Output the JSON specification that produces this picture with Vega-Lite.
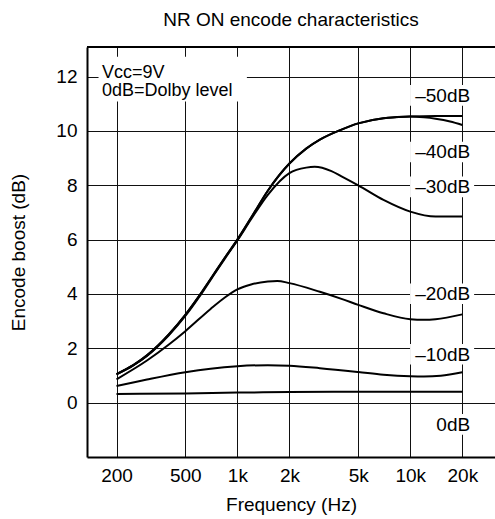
{
  "$schema": "https://vega.github.io/schema/vega-lite/v6.json",
  "autosize": "none",
  "width": 408,
  "height": 410,
  "padding": {"left": 87, "top": 47, "right": 0, "bottom": 62},
  "background": "white",
  "title": {"text": "NR ON encode characteristics", "fontSize": 19, "font": "Liberation Sans", "fontWeight": "normal", "color": "black", "anchor": "middle", "baseline": "alphabetic", "offset": 1},
  "config": {
    "view": {"stroke": null},
    "axis": {"labelFont": "Liberation Sans", "titleFont": "Liberation Sans", "labelFontSize": 19, "titleFontSize": 19, "titleFontWeight": "normal", "labelColor": "black", "titleColor": "black", "grid": true, "gridColor": "#111", "gridWidth": 1, "gridOpacity": 1, "domainColor": "black", "domainWidth": 2, "ticks": false, "tickSize": 0, "labelOverlap": false}
  },
  "datasets": {
    "curves": [
      {"f": 200, "v": 1.05, "s": "-50dB"}, {"f": 250, "v": 1.38, "s": "-50dB"}, {"f": 300, "v": 1.74, "s": "-50dB"}, {"f": 400, "v": 2.5, "s": "-50dB"}, {"f": 500, "v": 3.23, "s": "-50dB"}, {"f": 600, "v": 3.92, "s": "-50dB"}, {"f": 700, "v": 4.55, "s": "-50dB"}, {"f": 850, "v": 5.35, "s": "-50dB"}, {"f": 1000, "v": 6.0, "s": "-50dB"}, {"f": 1200, "v": 6.8, "s": "-50dB"}, {"f": 1500, "v": 7.8, "s": "-50dB"}, {"f": 2000, "v": 8.8, "s": "-50dB"}, {"f": 2500, "v": 9.35, "s": "-50dB"}, {"f": 3000, "v": 9.68, "s": "-50dB"}, {"f": 4000, "v": 10.05, "s": "-50dB"}, {"f": 5000, "v": 10.28, "s": "-50dB"}, {"f": 7000, "v": 10.47, "s": "-50dB"}, {"f": 10000, "v": 10.53, "s": "-50dB"}, {"f": 14000, "v": 10.55, "s": "-50dB"}, {"f": 20000, "v": 10.55, "s": "-50dB"},
      {"f": 200, "v": 1.05, "s": "-40dB"}, {"f": 250, "v": 1.38, "s": "-40dB"}, {"f": 300, "v": 1.74, "s": "-40dB"}, {"f": 400, "v": 2.5, "s": "-40dB"}, {"f": 500, "v": 3.23, "s": "-40dB"}, {"f": 600, "v": 3.92, "s": "-40dB"}, {"f": 700, "v": 4.55, "s": "-40dB"}, {"f": 850, "v": 5.35, "s": "-40dB"}, {"f": 1000, "v": 6.0, "s": "-40dB"}, {"f": 1200, "v": 6.8, "s": "-40dB"}, {"f": 1500, "v": 7.8, "s": "-40dB"}, {"f": 2000, "v": 8.8, "s": "-40dB"}, {"f": 2500, "v": 9.35, "s": "-40dB"}, {"f": 3000, "v": 9.68, "s": "-40dB"}, {"f": 4000, "v": 10.05, "s": "-40dB"}, {"f": 5000, "v": 10.28, "s": "-40dB"}, {"f": 7000, "v": 10.47, "s": "-40dB"}, {"f": 10000, "v": 10.53, "s": "-40dB"}, {"f": 12000, "v": 10.5, "s": "-40dB"}, {"f": 14000, "v": 10.45, "s": "-40dB"}, {"f": 17000, "v": 10.35, "s": "-40dB"}, {"f": 20000, "v": 10.22, "s": "-40dB"},
      {"f": 200, "v": 1.04, "s": "-30dB"}, {"f": 250, "v": 1.37, "s": "-30dB"}, {"f": 300, "v": 1.72, "s": "-30dB"}, {"f": 400, "v": 2.47, "s": "-30dB"}, {"f": 500, "v": 3.19, "s": "-30dB"}, {"f": 600, "v": 3.88, "s": "-30dB"}, {"f": 700, "v": 4.52, "s": "-30dB"}, {"f": 850, "v": 5.32, "s": "-30dB"}, {"f": 1000, "v": 5.97, "s": "-30dB"}, {"f": 1200, "v": 6.75, "s": "-30dB"}, {"f": 1500, "v": 7.65, "s": "-30dB"}, {"f": 2000, "v": 8.45, "s": "-30dB"}, {"f": 2500, "v": 8.65, "s": "-30dB"}, {"f": 2800, "v": 8.68, "s": "-30dB"}, {"f": 3500, "v": 8.52, "s": "-30dB"}, {"f": 4000, "v": 8.33, "s": "-30dB"}, {"f": 5000, "v": 8.0, "s": "-30dB"}, {"f": 7000, "v": 7.46, "s": "-30dB"}, {"f": 10000, "v": 7.03, "s": "-30dB"}, {"f": 14000, "v": 6.85, "s": "-30dB"}, {"f": 20000, "v": 6.85, "s": "-30dB"},
      {"f": 200, "v": 0.86, "s": "-20dB"}, {"f": 300, "v": 1.55, "s": "-20dB"}, {"f": 400, "v": 2.13, "s": "-20dB"}, {"f": 500, "v": 2.63, "s": "-20dB"}, {"f": 700, "v": 3.45, "s": "-20dB"}, {"f": 850, "v": 3.88, "s": "-20dB"}, {"f": 1000, "v": 4.17, "s": "-20dB"}, {"f": 1200, "v": 4.35, "s": "-20dB"}, {"f": 1500, "v": 4.46, "s": "-20dB"}, {"f": 1700, "v": 4.48, "s": "-20dB"}, {"f": 2000, "v": 4.4, "s": "-20dB"}, {"f": 3000, "v": 4.08, "s": "-20dB"}, {"f": 4000, "v": 3.82, "s": "-20dB"}, {"f": 5000, "v": 3.6, "s": "-20dB"}, {"f": 7000, "v": 3.29, "s": "-20dB"}, {"f": 10000, "v": 3.07, "s": "-20dB"}, {"f": 12000, "v": 3.05, "s": "-20dB"}, {"f": 14000, "v": 3.07, "s": "-20dB"}, {"f": 20000, "v": 3.25, "s": "-20dB"},
      {"f": 200, "v": 0.61, "s": "-10dB"}, {"f": 300, "v": 0.85, "s": "-10dB"}, {"f": 500, "v": 1.12, "s": "-10dB"}, {"f": 700, "v": 1.25, "s": "-10dB"}, {"f": 1000, "v": 1.34, "s": "-10dB"}, {"f": 1500, "v": 1.38, "s": "-10dB"}, {"f": 2000, "v": 1.36, "s": "-10dB"}, {"f": 3000, "v": 1.27, "s": "-10dB"}, {"f": 5000, "v": 1.13, "s": "-10dB"}, {"f": 7000, "v": 1.03, "s": "-10dB"}, {"f": 10000, "v": 0.97, "s": "-10dB"}, {"f": 12000, "v": 0.96, "s": "-10dB"}, {"f": 15000, "v": 0.99, "s": "-10dB"}, {"f": 20000, "v": 1.12, "s": "-10dB"},
      {"f": 200, "v": 0.32, "s": "0dB"}, {"f": 500, "v": 0.34, "s": "0dB"}, {"f": 1000, "v": 0.37, "s": "0dB"}, {"f": 2000, "v": 0.39, "s": "0dB"}, {"f": 5000, "v": 0.4, "s": "0dB"}, {"f": 10000, "v": 0.4, "s": "0dB"}, {"f": 20000, "v": 0.4, "s": "0dB"}
    ],
    "labels": [
      {"label": "–50dB", "f": 22200, "v": 11.08},
      {"label": "–40dB", "f": 22200, "v": 9.0},
      {"label": "–30dB", "f": 22200, "v": 7.71},
      {"label": "–20dB", "f": 22200, "v": 3.78},
      {"label": "–10dB", "f": 22200, "v": 1.55},
      {"label": "0dB", "f": 22200, "v": -1.03}
    ],
    "boxes": [
      {"f1": 9970, "f2": 23400, "v1": 10.93, "v2": 11.69},
      {"f1": 9970, "f2": 23400, "v1": 8.85, "v2": 9.6},
      {"f1": 9970, "f2": 23400, "v1": 7.56, "v2": 8.32},
      {"f1": 9970, "f2": 23400, "v1": 3.63, "v2": 4.39},
      {"f1": 9970, "f2": 23400, "v1": 1.4, "v2": 2.16},
      {"f1": 13000, "f2": 23400, "v1": -1.18, "v2": -0.42},
      {"f1": 157.4, "f2": 1135, "v1": 11.08, "v2": 12.73}
    ],
    "notes": [
      {"text": "Vcc=9V", "f": 164.6, "v": 11.96},
      {"text": "0dB=Dolby level", "f": 164.6, "v": 11.27}
    ],
    "frame": [{"v": 13.09}]
  },
  "layer": [
    {
      "data": {"name": "boxes"},
      "mark": {"type": "rect", "fill": "white", "strokeWidth": 0},
      "encoding": {
        "x": {"field": "f1", "type": "quantitative", "scale": {"type": "log", "domain": [135, 30900], "nice": false},
          "axis": {"values": [200, 500, 1000, 2000, 5000, 10000, 20000], "labelExpr": "datum.value >= 1000 ? format(datum.value/1000, 'd') + 'k' : format(datum.value, 'd')", "title": "Frequency (Hz)", "labelPadding": 9, "titlePadding": 10}},
        "x2": {"field": "f2"},
        "y": {"field": "v1", "type": "quantitative", "scale": {"domain": [-2, 13.09], "nice": false, "zero": false},
          "axis": {"values": [0, 2, 4, 6, 8, 10, 12], "title": "Encode boost (dB)", "labelPadding": 10, "titlePadding": 27}},
        "y2": {"field": "v2"}
      }
    },
    {
      "data": {"name": "frame"},
      "mark": {"type": "rule", "color": "black", "strokeWidth": 2},
      "encoding": {"y": {"field": "v", "type": "quantitative"}}
    },
    {
      "data": {"name": "curves"},
      "mark": {"type": "line", "color": "black", "strokeWidth": 2, "interpolate": "monotone"},
      "encoding": {
        "x": {"field": "f", "type": "quantitative"},
        "y": {"field": "v", "type": "quantitative"},
        "detail": {"field": "s"}
      }
    },
    {
      "data": {"name": "labels"},
      "mark": {"type": "text", "align": "right", "baseline": "alphabetic", "font": "Liberation Sans", "fontSize": 19, "color": "black"},
      "encoding": {
        "x": {"field": "f", "type": "quantitative"},
        "y": {"field": "v", "type": "quantitative"},
        "text": {"field": "label"}
      }
    },
    {
      "data": {"name": "notes"},
      "mark": {"type": "text", "align": "left", "baseline": "alphabetic", "font": "Liberation Sans", "fontSize": 18, "color": "black"},
      "encoding": {
        "x": {"field": "f", "type": "quantitative"},
        "y": {"field": "v", "type": "quantitative"},
        "text": {"field": "text"}
      }
    }
  ]
}
